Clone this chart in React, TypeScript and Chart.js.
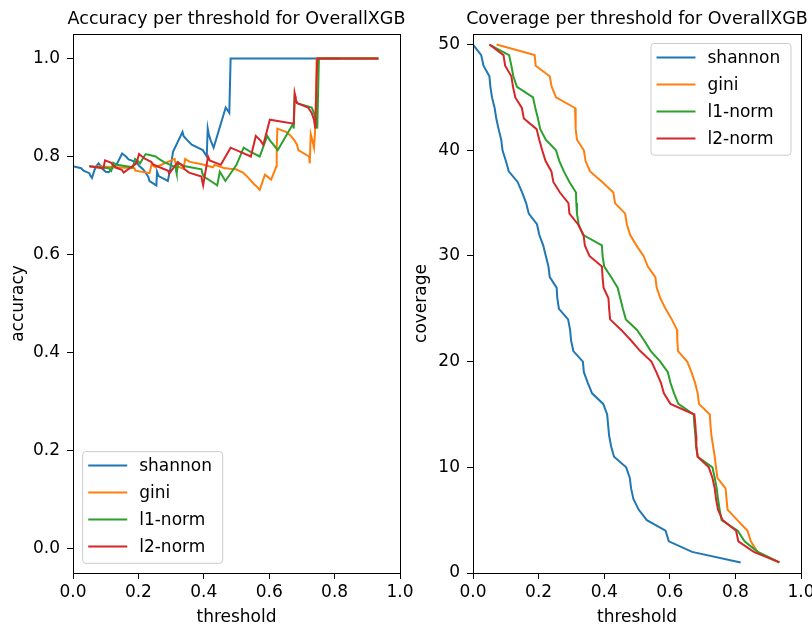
import React, { useEffect, useRef } from "react";
import { Chart, registerables } from "chart.js";

Chart.register(...registerables);

const FONT = "'DejaVu Sans', 'Liberation Sans', sans-serif";

const SERIES_NAMES = ["shannon", "gini", "l1-norm", "l2-norm"];
const COLORS = ["#1f77b4", "#ff7f0e", "#2ca02c", "#d62728"];

const X_TICKS = [0, 0.2, 0.4, 0.6, 0.8, 1.0];
const ACC_TICKS = [0, 0.2, 0.4, 0.6, 0.8, 1.0];
const COV_TICKS = [0, 10, 20, 30, 40, 50];

// thresholds per method (shared by both panels)
const SHANNON_T = [0.000, 0.025, 0.032, 0.050, 0.053, 0.058, 0.066, 0.071, 0.078, 0.086, 0.090, 0.100, 0.109, 0.136, 0.150, 0.162, 0.170, 0.195, 0.202, 0.214, 0.222, 0.230, 0.234, 0.255, 0.257, 0.262, 0.290, 0.296, 0.299, 0.306, 0.335, 0.338, 0.350, 0.363, 0.397, 0.409, 0.412, 0.415, 0.421, 0.430, 0.467, 0.478, 0.482, 0.489, 0.505, 0.530, 0.587, 0.597, 0.668, 0.816];
const GINI_T = [0.072, 0.188, 0.191, 0.234, 0.240, 0.253, 0.311, 0.312, 0.314, 0.317, 0.338, 0.343, 0.357, 0.394, 0.428, 0.433, 0.464, 0.469, 0.479, 0.498, 0.520, 0.533, 0.556, 0.560, 0.571, 0.587, 0.606, 0.622, 0.623, 0.625, 0.653, 0.666, 0.677, 0.685, 0.689, 0.722, 0.724, 0.727, 0.732, 0.737, 0.741, 0.745, 0.770, 0.773, 0.776, 0.806, 0.837, 0.847, 0.867, 0.934];
const L1_T = [0.050, 0.110, 0.117, 0.123, 0.134, 0.183, 0.190, 0.198, 0.205, 0.222, 0.253, 0.263, 0.277, 0.294, 0.314, 0.315, 0.317, 0.322, 0.335, 0.393, 0.395, 0.400, 0.421, 0.441, 0.449, 0.457, 0.466, 0.500, 0.522, 0.542, 0.571, 0.594, 0.602, 0.613, 0.626, 0.673, 0.675, 0.678, 0.680, 0.685, 0.730, 0.737, 0.743, 0.747, 0.752, 0.758, 0.807, 0.828, 0.868, 0.934];
const L2_T = [0.050, 0.093, 0.098, 0.117, 0.122, 0.129, 0.149, 0.155, 0.194, 0.202, 0.211, 0.221, 0.239, 0.245, 0.265, 0.291, 0.294, 0.320, 0.337, 0.341, 0.355, 0.393, 0.395, 0.398, 0.413, 0.415, 0.418, 0.452, 0.482, 0.510, 0.544, 0.559, 0.573, 0.582, 0.602, 0.675, 0.678, 0.680, 0.681, 0.685, 0.719, 0.730, 0.737, 0.741, 0.747, 0.761, 0.802, 0.809, 0.856, 0.934];

// accuracy per threshold
const SHANNON_ACC = [0.780, 0.776, 0.771, 0.766, 0.761, 0.756, 0.773, 0.780, 0.786, 0.780, 0.775, 0.769, 0.768, 0.787, 0.806, 0.800, 0.794, 0.788, 0.781, 0.774, 0.767, 0.759, 0.750, 0.741, 0.769, 0.760, 0.750, 0.770, 0.780, 0.810, 0.850, 0.842, 0.833, 0.824, 0.813, 0.800, 0.857, 0.846, 0.833, 0.818, 0.900, 0.889, 1.0, 1.0, 1.0, 1.0, 1.0, 1.0, 1.0, 1.0];
const GINI_ACC = [0.780, 0.776, 0.771, 0.766, 0.783, 0.778, 0.795, 0.791, 0.786, 0.780, 0.775, 0.795, 0.789, 0.784, 0.778, 0.783, 0.776, 0.776, 0.775, 0.774, 0.767, 0.759, 0.742, 0.740, 0.732, 0.763, 0.753, 0.780, 0.818, 0.857, 0.850, 0.842, 0.833, 0.824, 0.813, 0.800, 0.786, 0.846, 0.833, 0.818, 0.860, 1.0, 1.0, 1.0, 1.0, 1.0, 1.0, 1.0, 1.0, 1.0];
const L1_ACC = [0.780, 0.776, 0.771, 0.787, 0.783, 0.778, 0.795, 0.791, 0.786, 0.805, 0.800, 0.795, 0.789, 0.784, 0.778, 0.771, 0.765, 0.788, 0.781, 0.774, 0.767, 0.759, 0.750, 0.741, 0.769, 0.760, 0.750, 0.783, 0.818, 0.810, 0.800, 0.842, 0.833, 0.824, 0.813, 0.867, 0.857, 0.923, 0.917, 0.909, 0.900, 0.889, 0.875, 0.857, 1.0, 1.0, 1.0, 1.0, 1.0, 1.0];
const L2_ACC = [0.780, 0.776, 0.792, 0.787, 0.783, 0.778, 0.773, 0.767, 0.786, 0.805, 0.800, 0.795, 0.789, 0.784, 0.778, 0.771, 0.765, 0.788, 0.781, 0.774, 0.767, 0.759, 0.750, 0.741, 0.800, 0.800, 0.792, 0.783, 0.818, 0.810, 0.800, 0.842, 0.833, 0.824, 0.875, 0.867, 0.929, 0.923, 0.917, 0.909, 0.900, 0.889, 0.875, 0.857, 1.0, 1.0, 1.0, 1.0, 1.0, 1.0];

// coverage per threshold (same for each method)
const COVERAGE = [50, 49, 48, 47, 46, 45, 44, 43, 42, 41, 40, 39, 38, 37, 36, 35, 34, 33, 32, 31, 30, 29, 28, 27, 26, 25, 24, 23, 22, 21, 20, 19, 18, 17, 16, 15, 14, 13, 12, 11, 10, 9, 8, 7, 6, 5, 4, 3, 2, 1];

const THRESHOLDS = [SHANNON_T, GINI_T, L1_T, L2_T];

type Area = { left: number; right: number; top: number; bottom: number };
type Cfg = {
  title: string;
  xLabel: string;
  yLabel: string;
  yLabelX: number;
  yMin: number;
  yMax: number;
  yTicks: number[];
  yFmt: (v: number) => string;
  ys: number[][];
  width: number;
  area: Area;
  legend: "lowerLeft" | "upperRight";
};

const H = 630;

function decorPlugin(cfg: Cfg) {
  return {
    id: "decor",
    afterDraw(chart: any) {
      const ctx = chart.ctx as CanvasRenderingContext2D;
      const a = chart.chartArea;
      ctx.save();
      // frame (all four spines)
      ctx.strokeStyle = "#000";
      ctx.lineWidth = 1;
      ctx.strokeRect(a.left + 0.5, a.top + 0.5, a.right - a.left, a.bottom - a.top);

      const cx = (a.left + a.right) / 2;
      ctx.fillStyle = "#000";
      // title
      ctx.font = `17.5px ${FONT}`;
      ctx.textAlign = "center";
      ctx.textBaseline = "alphabetic";
      ctx.fillText(cfg.title, cx, 24);
      // x label
      ctx.font = `17px ${FONT}`;
      ctx.fillText(cfg.xLabel, cx, 622);
      // y label
      ctx.save();
      ctx.translate(cfg.yLabelX, (a.top + a.bottom) / 2);
      ctx.rotate(-Math.PI / 2);
      ctx.textBaseline = "middle";
      ctx.fillText(cfg.yLabel, 0, 0);
      ctx.restore();

      // legend
      const bw = 140;
      const bh = 111.7;
      let bx: number, by: number;
      if (cfg.legend === "lowerLeft") {
        bx = a.left + 9.7;
        by = a.bottom - 9.7 - bh;
      } else {
        bx = a.right - 10 - bw;
        by = a.top + 9.5;
      }
      ctx.beginPath();
      const r = 3;
      ctx.moveTo(bx + r, by);
      ctx.lineTo(bx + bw - r, by);
      ctx.quadraticCurveTo(bx + bw, by, bx + bw, by + r);
      ctx.lineTo(bx + bw, by + bh - r);
      ctx.quadraticCurveTo(bx + bw, by + bh, bx + bw - r, by + bh);
      ctx.lineTo(bx + r, by + bh);
      ctx.quadraticCurveTo(bx, by + bh, bx, by + bh - r);
      ctx.lineTo(bx, by + r);
      ctx.quadraticCurveTo(bx, by, bx + r, by);
      ctx.closePath();
      ctx.fillStyle = "rgba(255,255,255,0.8)";
      ctx.fill();
      ctx.strokeStyle = "#cccccc";
      ctx.lineWidth = 1;
      ctx.stroke();

      ctx.font = `17px ${FONT}`;
      ctx.textAlign = "left";
      ctx.textBaseline = "middle";
      chart.data.datasets.forEach((ds: any, i: number) => {
        const ry = by + 14 + i * 27;
        ctx.strokeStyle = ds.borderColor;
        ctx.lineWidth = 2;
        ctx.beginPath();
        ctx.moveTo(bx + 5.5, ry);
        ctx.lineTo(bx + 44.5, ry);
        ctx.stroke();
        ctx.fillStyle = "#000";
        ctx.fillText(ds.label, bx + 56.5, ry + 1);
      });
      ctx.restore();
    },
  };
}

function build(canvas: HTMLCanvasElement, cfg: Cfg) {
  const datasets = SERIES_NAMES.map((name, i) => ({
    label: name,
    data: THRESHOLDS[i].map((x, j) => ({ x, y: cfg.ys[i][j] })),
    borderColor: COLORS[i],
    backgroundColor: COLORS[i],
    borderWidth: 2,
    pointRadius: 0,
    pointHoverRadius: 0,
    tension: 0,
    fill: false,
    order: SERIES_NAMES.length - i,
  }));
  const tickFont = { size: 17, family: FONT };
  return new Chart(canvas, {
    type: "line",
    data: { datasets } as any,
    options: {
      animation: false,
      responsive: false,
      devicePixelRatio: 1,
      events: [],
      layout: { padding: { left: 0, top: cfg.area.top, right: cfg.width - cfg.area.right, bottom: 0 } },
      plugins: {
        legend: { display: false },
        title: { display: false },
        tooltip: { enabled: false },
      },
      scales: {
        x: {
          type: "linear",
          min: 0,
          max: 1,
          afterBuildTicks: (s: any) => {
            s.ticks = X_TICKS.map((v) => ({ value: v }));
          },
          afterFit: (s: any) => {
            s.height = H - cfg.area.bottom;
            s.paddingLeft = 0;
            s.paddingRight = 0;
          },
          grid: { drawOnChartArea: false, drawTicks: true, tickLength: 6, tickColor: "#000", tickWidth: 1 },
          border: { display: false },
          ticks: {
            color: "#000",
            font: tickFont,
            padding: 3,
            maxRotation: 0,
            autoSkip: false,
            callback: (v: any) => Number(v).toFixed(1),
          },
        },
        y: {
          type: "linear",
          min: cfg.yMin,
          max: cfg.yMax,
          afterBuildTicks: (s: any) => {
            s.ticks = cfg.yTicks.map((v) => ({ value: v }));
          },
          afterFit: (s: any) => {
            s.width = cfg.area.left;
            s.paddingTop = 0;
            s.paddingBottom = 0;
          },
          grid: { drawOnChartArea: false, drawTicks: true, tickLength: 6, tickColor: "#000", tickWidth: 1 },
          border: { display: false },
          ticks: {
            color: "#000",
            font: tickFont,
            padding: 7,
            autoSkip: false,
            callback: (v: any) => cfg.yFmt(Number(v)),
          },
        },
      },
    } as any,
    plugins: [decorPlugin(cfg)],
  });
}

const LEFT_CFG: Cfg = {
  title: "Accuracy per threshold for OverallXGB",
  xLabel: "threshold",
  yLabel: "accuracy",
  yLabelX: 19,
  yMin: -0.05,
  yMax: 1.05,
  yTicks: ACC_TICKS,
  yFmt: (v) => v.toFixed(1),
  ys: [SHANNON_ACC, GINI_ACC, L1_ACC, L2_ACC],
  width: 430,
  area: { left: 73, right: 400, top: 34, bottom: 573 },
  legend: "lowerLeft",
};

const RIGHT_OFFSET = 406;

const RIGHT_CFG: Cfg = {
  title: "Coverage per threshold for OverallXGB",
  xLabel: "threshold",
  yLabel: "coverage",
  yLabelX: 16,
  yMin: 0,
  yMax: 51,
  yTicks: COV_TICKS,
  yFmt: (v) => String(Math.round(v)),
  ys: [COVERAGE, COVERAGE, COVERAGE, COVERAGE],
  width: 406,
  area: { left: 67, right: 395, top: 34, bottom: 573 },
  legend: "upperRight",
};

export default function App() {
  const leftRef = useRef<HTMLCanvasElement>(null);
  const rightRef = useRef<HTMLCanvasElement>(null);
  useEffect(() => {
    const c1 = build(leftRef.current as HTMLCanvasElement, LEFT_CFG);
    const c2 = build(rightRef.current as HTMLCanvasElement, RIGHT_CFG);
    return () => {
      c1.destroy();
      c2.destroy();
    };
  }, []);
  return (
    <div style={{ position: "absolute", left: 0, top: 0, width: 812, height: 630, background: "#fff", overflow: "hidden" }}>
      <canvas
        ref={leftRef}
        width={LEFT_CFG.width}
        height={H}
        style={{ position: "absolute", left: 0, top: 0, width: LEFT_CFG.width, height: H }}
      />
      <canvas
        ref={rightRef}
        width={RIGHT_CFG.width}
        height={H}
        style={{ position: "absolute", left: RIGHT_OFFSET, top: 0, width: RIGHT_CFG.width, height: H }}
      />
    </div>
  );
}
